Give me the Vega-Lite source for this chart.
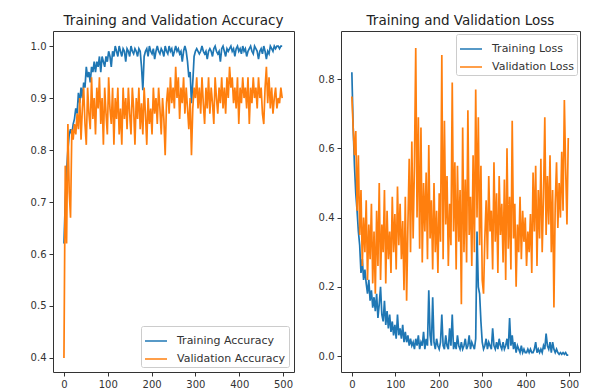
{
 "$schema": "https://vega.github.io/schema/vega-lite/v6.json",
 "background": "white",
 "padding": {"left": 29, "top": 13, "right": 5, "bottom": 5},
 "spacing": 22,
 "datasets": {"d": [
{"e":0,"ta":0.62,"va":0.40,"tl":0.82,"vl":0.75},
{"e":3,"ta":0.70,"va":0.77,"tl":0.66,"vl":0.66},
{"e":6,"ta":0.76,"va":0.62,"tl":0.55,"vl":0.58},
{"e":9,"ta":0.80,"va":0.85,"tl":0.47,"vl":0.65},
{"e":12,"ta":0.83,"va":0.72,"tl":0.42,"vl":0.42},
{"e":15,"ta":0.84,"va":0.67,"tl":0.36,"vl":0.58},
{"e":18,"ta":0.83,"va":0.84,"tl":0.32,"vl":0.35},
{"e":21,"ta":0.85,"va":0.82,"tl":0.24,"vl":0.48},
{"e":24,"ta":0.86,"va":0.85,"tl":0.28,"vl":0.26},
{"e":27,"ta":0.88,"va":0.83,"tl":0.22,"vl":0.40},
{"e":30,"ta":0.87,"va":0.87,"tl":0.25,"vl":0.30},
{"e":33,"ta":0.91,"va":0.84,"tl":0.21,"vl":0.45},
{"e":36,"ta":0.89,"va":0.90,"tl":0.18,"vl":0.22},
{"e":39,"ta":0.92,"va":0.82,"tl":0.22,"vl":0.38},
{"e":42,"ta":0.90,"va":0.88,"tl":0.16,"vl":0.28},
{"e":45,"ta":0.93,"va":0.92,"tl":0.19,"vl":0.44},
{"e":48,"ta":0.92,"va":0.85,"tl":0.14,"vl":0.21},
{"e":51,"ta":0.96,"va":0.81,"tl":0.17,"vl":0.36},
{"e":54,"ta":0.94,"va":0.92,"tl":0.13,"vl":0.18},
{"e":57,"ta":0.95,"va":0.87,"tl":0.18,"vl":0.42},
{"e":60,"ta":0.93,"va":0.84,"tl":0.11,"vl":0.26},
{"e":63,"ta":0.96,"va":0.94,"tl":0.15,"vl":0.50},
{"e":66,"ta":0.95,"va":0.86,"tl":0.20,"vl":0.22},
{"e":69,"ta":0.97,"va":0.90,"tl":0.12,"vl":0.38},
{"e":72,"ta":0.95,"va":0.83,"tl":0.10,"vl":0.30},
{"e":75,"ta":0.97,"va":0.92,"tl":0.16,"vl":0.48},
{"e":78,"ta":0.96,"va":0.88,"tl":0.09,"vl":0.21},
{"e":81,"ta":0.98,"va":0.94,"tl":0.13,"vl":0.42},
{"e":84,"ta":0.95,"va":0.85,"tl":0.08,"vl":0.28},
{"e":87,"ta":0.98,"va":0.90,"tl":0.12,"vl":0.36},
{"e":90,"ta":0.97,"va":0.81,"tl":0.07,"vl":0.24},
{"e":93,"ta":0.96,"va":0.92,"tl":0.10,"vl":0.46},
{"e":96,"ta":0.98,"va":0.87,"tl":0.06,"vl":0.30},
{"e":99,"ta":0.97,"va":0.83,"tl":0.09,"vl":0.41},
{"e":102,"ta":0.99,"va":0.94,"tl":0.05,"vl":0.25},
{"e":105,"ta":0.98,"va":0.88,"tl":0.12,"vl":0.49},
{"e":108,"ta":0.96,"va":0.85,"tl":0.06,"vl":0.32},
{"e":111,"ta":0.99,"va":0.92,"tl":0.08,"vl":0.44},
{"e":114,"ta":0.98,"va":0.81,"tl":0.05,"vl":0.28},
{"e":117,"ta":1.0,"va":0.90,"tl":0.09,"vl":0.39},
{"e":120,"ta":0.99,"va":0.86,"tl":0.04,"vl":0.19},
{"e":123,"ta":0.98,"va":0.92,"tl":0.07,"vl":0.46},
{"e":126,"ta":1.0,"va":0.83,"tl":0.04,"vl":0.16},
{"e":129,"ta":0.99,"va":0.88,"tl":0.06,"vl":0.38},
{"e":132,"ta":0.98,"va":0.81,"tl":0.03,"vl":0.57},
{"e":135,"ta":0.995,"va":0.92,"tl":0.05,"vl":0.30},
{"e":138,"ta":0.99,"va":0.86,"tl":0.03,"vl":0.62},
{"e":141,"ta":0.97,"va":0.90,"tl":0.04,"vl":0.34},
{"e":144,"ta":0.995,"va":0.84,"tl":0.02,"vl":0.55},
{"e":147,"ta":0.99,"va":0.92,"tl":0.05,"vl":0.89},
{"e":150,"ta":0.98,"va":0.87,"tl":0.03,"vl":0.40},
{"e":153,"ta":1.0,"va":0.83,"tl":0.06,"vl":0.69},
{"e":156,"ta":0.99,"va":0.92,"tl":0.02,"vl":0.31},
{"e":159,"ta":0.985,"va":0.88,"tl":0.04,"vl":0.66},
{"e":162,"ta":0.995,"va":0.81,"tl":0.03,"vl":0.27},
{"e":165,"ta":0.99,"va":0.90,"tl":0.07,"vl":0.50},
{"e":168,"ta":0.98,"va":0.86,"tl":0.02,"vl":0.36},
{"e":171,"ta":0.995,"va":0.92,"tl":0.05,"vl":0.53},
{"e":174,"ta":0.99,"va":0.84,"tl":0.03,"vl":0.28},
{"e":177,"ta":0.96,"va":0.89,"tl":0.19,"vl":0.61},
{"e":180,"ta":0.915,"va":0.83,"tl":0.06,"vl":0.34},
{"e":183,"ta":0.98,"va":0.92,"tl":0.03,"vl":0.45},
{"e":186,"ta":0.99,"va":0.87,"tl":0.17,"vl":0.25},
{"e":189,"ta":0.995,"va":0.81,"tl":0.04,"vl":0.50},
{"e":192,"ta":0.98,"va":0.90,"tl":0.02,"vl":0.30},
{"e":195,"ta":1.0,"va":0.85,"tl":0.05,"vl":0.42},
{"e":198,"ta":0.99,"va":0.88,"tl":0.03,"vl":0.24},
{"e":201,"ta":0.985,"va":0.83,"tl":0.02,"vl":0.47},
{"e":204,"ta":0.995,"va":0.92,"tl":0.04,"vl":0.33},
{"e":207,"ta":0.975,"va":0.87,"tl":0.12,"vl":0.87},
{"e":210,"ta":0.99,"va":0.90,"tl":0.03,"vl":0.28},
{"e":213,"ta":1.0,"va":0.85,"tl":0.02,"vl":0.68},
{"e":216,"ta":0.99,"va":0.92,"tl":0.06,"vl":0.38},
{"e":219,"ta":0.985,"va":0.88,"tl":0.03,"vl":0.52},
{"e":222,"ta":0.995,"va":0.83,"tl":0.02,"vl":0.26},
{"e":225,"ta":0.99,"va":0.90,"tl":0.08,"vl":0.44},
{"e":228,"ta":0.98,"va":0.86,"tl":0.03,"vl":0.32},
{"e":231,"ta":1.0,"va":0.79,"tl":0.12,"vl":0.79},
{"e":234,"ta":0.99,"va":0.89,"tl":0.02,"vl":0.36},
{"e":237,"ta":0.985,"va":0.92,"tl":0.04,"vl":0.56},
{"e":240,"ta":1.0,"va":0.87,"tl":0.02,"vl":0.25},
{"e":243,"ta":0.99,"va":0.94,"tl":0.06,"vl":0.55},
{"e":246,"ta":0.995,"va":0.89,"tl":0.03,"vl":0.33},
{"e":249,"ta":0.98,"va":0.92,"tl":0.02,"vl":0.48},
{"e":252,"ta":0.99,"va":0.88,"tl":0.04,"vl":0.15},
{"e":255,"ta":1.0,"va":0.96,"tl":0.02,"vl":0.66},
{"e":258,"ta":0.99,"va":0.90,"tl":0.03,"vl":0.30},
{"e":261,"ta":0.995,"va":0.94,"tl":0.05,"vl":0.51},
{"e":264,"ta":0.985,"va":0.86,"tl":0.02,"vl":0.27},
{"e":267,"ta":0.99,"va":0.92,"tl":0.03,"vl":0.71},
{"e":270,"ta":0.97,"va":0.89,"tl":0.06,"vl":0.35},
{"e":273,"ta":0.99,"va":0.94,"tl":0.02,"vl":0.46},
{"e":276,"ta":1.0,"va":0.87,"tl":0.04,"vl":0.26},
{"e":279,"ta":0.99,"va":0.92,"tl":0.03,"vl":0.58},
{"e":282,"ta":0.97,"va":0.88,"tl":0.02,"vl":0.30},
{"e":285,"ta":0.94,"va":0.84,"tl":0.05,"vl":0.77},
{"e":288,"ta":0.95,"va":0.90,"tl":0.36,"vl":0.40},
{"e":291,"ta":0.89,"va":0.79,"tl":0.20,"vl":0.69},
{"e":294,"ta":0.93,"va":0.88,"tl":0.18,"vl":0.32},
{"e":297,"ta":0.98,"va":0.92,"tl":0.10,"vl":0.55},
{"e":300,"ta":0.99,"va":0.90,"tl":0.04,"vl":0.22},
{"e":303,"ta":0.995,"va":0.94,"tl":0.02,"vl":0.18},
{"e":306,"ta":0.99,"va":0.88,"tl":0.03,"vl":0.34},
{"e":309,"ta":0.985,"va":0.92,"tl":0.05,"vl":0.45},
{"e":312,"ta":0.99,"va":0.87,"tl":0.02,"vl":0.28},
{"e":315,"ta":1.0,"va":0.94,"tl":0.04,"vl":0.52},
{"e":318,"ta":0.99,"va":0.89,"tl":0.03,"vl":0.36},
{"e":321,"ta":0.985,"va":0.85,"tl":0.02,"vl":0.42},
{"e":324,"ta":0.99,"va":0.92,"tl":0.08,"vl":0.25},
{"e":327,"ta":0.975,"va":0.88,"tl":0.03,"vl":0.56},
{"e":330,"ta":0.99,"va":0.94,"tl":0.02,"vl":0.33},
{"e":333,"ta":0.995,"va":0.87,"tl":0.04,"vl":0.47},
{"e":336,"ta":0.99,"va":0.92,"tl":0.02,"vl":0.24},
{"e":339,"ta":0.98,"va":0.89,"tl":0.05,"vl":0.52},
{"e":342,"ta":0.995,"va":0.85,"tl":0.03,"vl":0.35},
{"e":345,"ta":1.0,"va":0.94,"tl":0.02,"vl":0.44},
{"e":348,"ta":0.99,"va":0.90,"tl":0.04,"vl":0.27},
{"e":351,"ta":0.985,"va":0.87,"tl":0.02,"vl":0.51},
{"e":354,"ta":0.99,"va":0.92,"tl":0.03,"vl":0.22},
{"e":357,"ta":0.97,"va":0.89,"tl":0.05,"vl":0.60},
{"e":360,"ta":0.995,"va":0.94,"tl":0.02,"vl":0.31},
{"e":363,"ta":1.0,"va":0.88,"tl":0.11,"vl":0.46},
{"e":366,"ta":0.99,"va":0.92,"tl":0.03,"vl":0.25},
{"e":369,"ta":0.98,"va":0.87,"tl":0.06,"vl":0.68},
{"e":372,"ta":0.995,"va":0.94,"tl":0.02,"vl":0.34},
{"e":375,"ta":0.99,"va":0.90,"tl":0.04,"vl":0.44},
{"e":378,"ta":0.995,"va":0.96,"tl":0.01,"vl":0.20},
{"e":381,"ta":1.0,"va":0.92,"tl":0.03,"vl":0.38},
{"e":384,"ta":0.99,"va":0.94,"tl":0.02,"vl":0.30},
{"e":387,"ta":0.995,"va":0.89,"tl":0.01,"vl":0.46},
{"e":390,"ta":0.98,"va":0.92,"tl":0.03,"vl":0.28},
{"e":393,"ta":0.995,"va":0.88,"tl":0.01,"vl":0.42},
{"e":396,"ta":1.0,"va":0.94,"tl":0.02,"vl":0.33},
{"e":399,"ta":0.99,"va":0.85,"tl":0.01,"vl":0.40},
{"e":402,"ta":0.995,"va":0.92,"tl":0.01,"vl":0.26},
{"e":405,"ta":0.985,"va":0.89,"tl":0.02,"vl":0.36},
{"e":408,"ta":1.0,"va":0.94,"tl":0.01,"vl":0.30},
{"e":411,"ta":0.99,"va":0.90,"tl":0.02,"vl":0.41},
{"e":414,"ta":0.995,"va":0.92,"tl":0.01,"vl":0.24},
{"e":417,"ta":0.98,"va":0.88,"tl":0.01,"vl":0.53},
{"e":420,"ta":0.99,"va":0.94,"tl":0.02,"vl":0.36},
{"e":423,"ta":0.995,"va":0.85,"tl":0.04,"vl":0.55},
{"e":426,"ta":1.0,"va":0.92,"tl":0.01,"vl":0.26},
{"e":429,"ta":0.99,"va":0.89,"tl":0.02,"vl":0.48},
{"e":432,"ta":0.985,"va":0.94,"tl":0.01,"vl":0.34},
{"e":435,"ta":1.0,"va":0.90,"tl":0.02,"vl":0.57},
{"e":438,"ta":0.995,"va":0.92,"tl":0.01,"vl":0.30},
{"e":441,"ta":0.99,"va":0.88,"tl":0.03,"vl":0.46},
{"e":444,"ta":0.975,"va":0.94,"tl":0.02,"vl":0.69},
{"e":447,"ta":0.99,"va":0.90,"tl":0.065,"vl":0.35},
{"e":450,"ta":0.995,"va":0.92,"tl":0.03,"vl":0.52},
{"e":453,"ta":0.985,"va":0.87,"tl":0.02,"vl":0.38},
{"e":456,"ta":1.0,"va":0.85,"tl":0.04,"vl":0.58},
{"e":459,"ta":0.99,"va":0.92,"tl":0.01,"vl":0.30},
{"e":462,"ta":0.975,"va":0.96,"tl":0.04,"vl":0.48},
{"e":465,"ta":0.99,"va":0.89,"tl":0.02,"vl":0.14},
{"e":468,"ta":0.985,"va":0.94,"tl":0.01,"vl":0.44},
{"e":471,"ta":1.0,"va":0.88,"tl":0.02,"vl":0.56},
{"e":474,"ta":0.995,"va":0.92,"tl":0.01,"vl":0.37},
{"e":477,"ta":0.99,"va":0.87,"tl":0.005,"vl":0.50},
{"e":480,"ta":1.0,"va":0.90,"tl":0.01,"vl":0.40},
{"e":483,"ta":0.995,"va":0.92,"tl":0.005,"vl":0.59},
{"e":486,"ta":1.0,"va":0.88,"tl":0.01,"vl":0.42},
{"e":489,"ta":1.0,"va":0.90,"tl":0.005,"vl":0.74},
{"e":492,"ta":0.995,"va":0.89,"tl":0.01,"vl":0.54},
{"e":495,"ta":1.0,"va":0.92,"tl":0.003,"vl":0.38},
{"e":498,"ta":1.0,"va":0.90,"tl":0.003,"vl":0.63}
 ]},
 "config": {
  "font": "DejaVu Sans",
  "view": {"stroke": "#333", "strokeWidth": 1},
  "axis": {"grid": false, "domain": false, "tickColor": "#333", "tickSize": 4, "labelFontSize": 10, "labelColor": "#333", "labelPadding": 3},
  "title": {"fontSize": 13.5, "fontWeight": "normal", "color": "#222", "offset": 4},
  "legend": {"title": null, "symbolType": "stroke", "symbolSize": 484, "symbolStrokeWidth": 1.5, "labelFontSize": 11, "labelColor": "#333", "fillColor": "white", "strokeColor": "#ccc", "padding": 3, "rowPadding": 1, "labelOffset": 9, "cornerRadius": 2}
 },
 "resolve": {"scale": {"color": "independent"}, "legend": {"color": "independent"}},
 "hconcat": [
  {
   "width": 241, "height": 341,
   "title": "Training and Validation Accuracy",
   "data": {"name": "d"},
   "transform": [{"fold": ["ta", "va"], "as": ["k", "v"]}],
   "mark": {"type": "line", "strokeWidth": 1.7},
   "encoding": {
    "x": {"field": "e", "type": "quantitative", "scale": {"domain": [-25, 525], "nice": false, "zero": false}, "axis": {"title": null, "values": [0, 100, 200, 300, 400, 500], "labelFlush": false}},
    "y": {"field": "v", "type": "quantitative", "scale": {"domain": [0.373, 1.029], "nice": false, "zero": false}, "axis": {"title": null, "values": [0.4, 0.5, 0.6, 0.7, 0.8, 0.9, 1.0], "format": ".1f"}},
    "color": {"field": "k", "type": "nominal", "scale": {"domain": ["ta", "va"], "range": ["#1f77b4", "#ff7f0e"]}, "legend": {"orient": "bottom-right", "offset": 5, "labelExpr": "datum.value == 'ta' ? 'Training Accuracy' : 'Validation Accuracy'"}}
   }
  },
  {
   "width": 239, "height": 341,
   "title": "Training and Validation Loss",
   "data": {"name": "d"},
   "transform": [{"fold": ["tl", "vl"], "as": ["k", "v"]}],
   "mark": {"type": "line", "strokeWidth": 1.7},
   "encoding": {
    "x": {"field": "e", "type": "quantitative", "scale": {"domain": [-25, 525], "nice": false, "zero": false}, "axis": {"title": null, "values": [0, 100, 200, 300, 400, 500], "labelFlush": false}},
    "y": {"field": "v", "type": "quantitative", "scale": {"domain": [-0.046, 0.939], "nice": false, "zero": false}, "axis": {"title": null, "values": [0, 0.2, 0.4, 0.6, 0.8], "format": ".1f"}},
    "color": {"field": "k", "type": "nominal", "scale": {"domain": ["tl", "vl"], "range": ["#1f77b4", "#ff7f0e"]}, "legend": {"orient": "top-right", "offset": 3, "labelExpr": "datum.value == 'tl' ? 'Training Loss' : 'Validation Loss'"}}
   }
  }
 ]
}
